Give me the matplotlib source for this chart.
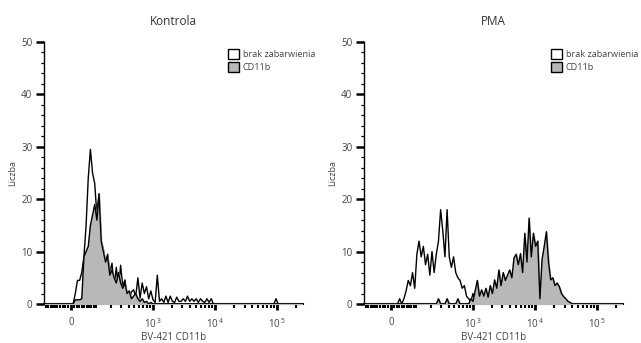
import numpy as np
import matplotlib
matplotlib.use("Agg")
import matplotlib.pyplot as plt
from matplotlib.patches import Patch

plt.rcParams["font.family"] = ["Open Sans", "DejaVu Sans"]

# teksty
panel_titles = ["Kontrola", "PMA"]
legend_labels = ["brak zabarwienia", "CD11b"]
x_label = "BV-421 CD11b"
y_label = "Liczba"
x_tick_values = [0, 1e3, 1e4, 1e5]
x_tick_labels = ["0", r"$\mathregular{10^{\,3}}$", r"$\mathregular{10^{\,4}}$", r"$\mathregular{10^{\,5}}$"]
y_tick_values = [0, 10, 20, 30, 40, 50]

# liczebnosci w 120 kanalach (skala biexp, od lewej do prawej)
kontrola_brak = [
    0, 0, 0, 0, 0, 0, 0, 0, 0, 0,
    0, 0, 0, 0, 2, 4.5, 4.5, 6, 9, 15,
    24, 29.5, 25, 23, 17, 21, 12, 10.5, 8, 9.5,
    6, 7.8, 3.3, 7, 2.7, 7.4, 3.3, 4.6, 1.7, 1,
    2.3, 2.7, 1.5, 5, 1.1, 4, 2, 3.3, 1, 2.5,
    0.8, 0.3, 5.5, 0.5, 1, 0.3, 1.5, 0.3, 1.5, 0.5,
    0.3, 1.3, 0.5, 0.5, 1, 0.5, 1.5, 0.5, 1, 0.5,
    1, 0.3, 1, 0.5, 0.3, 1, 0.3, 1, 0, 0,
    0, 0, 0, 0, 0, 0, 0, 0, 0, 0,
    0, 0, 0, 0, 0, 0, 0, 0, 0, 0,
    0, 0, 0, 0, 0, 0, 0, 1, 0, 0,
    0, 0, 0, 0, 0, 0, 0, 0, 0, 0,
]
kontrola_cd11b = [
    0, 0, 0, 0, 0, 0, 0, 0, 0, 0,
    0, 0, 0, 0, 0.8, 0.8, 0.8, 1, 9, 10,
    11, 15, 17, 19, 16, 21, 12, 10, 8, 9,
    5.5, 6.5, 5, 4, 6, 4, 3, 4, 2, 2.5,
    1, 1.5, 2, 1, 0.5, 1, 0.3, 0.5, 0, 0.3,
    0, 0, 0, 0, 0, 0, 0, 0, 0, 0,
    0, 0, 0, 0, 0, 0, 0, 0, 0, 0,
    0, 0, 0, 0, 0, 0, 0, 0, 0, 0,
    0, 0, 0, 0, 0, 0, 0, 0, 0, 0,
    0, 0, 0, 0, 0, 0, 0, 0, 0, 0,
    0, 0, 0, 0, 0, 0, 0, 0, 0, 0,
    0, 0, 0, 0, 0, 0, 0, 0, 0, 0,
]
pma_brak = [
    0, 0, 0, 0, 0, 0, 0, 0, 0, 0,
    0, 0, 0, 0, 0, 0, 1, 0, 1, 2.5,
    4.5, 3.5, 6, 3, 9.5, 12, 9, 11, 7.5, 9.5,
    5.5, 10, 6, 9.5, 12, 18, 14, 9, 18, 9,
    7, 9, 6, 5, 4.5, 3, 3.5, 1.5, 1, 0.5,
    2, 0.3, 1, 0, 0, 0, 0, 0, 0, 0,
    0, 0, 0, 0, 0, 0, 0, 0, 0, 0,
    0, 0, 0, 0, 0, 0, 0, 0, 0, 0,
    0, 0, 0, 0, 0, 0, 0, 0, 0, 0,
    0, 0, 0, 0, 0, 0, 0, 0, 0, 0,
    0, 0, 0, 0, 0, 0, 0, 0, 0, 0,
    0, 0, 0, 0, 0, 0, 0, 0, 0, 0,
]
pma_cd11b = [
    0, 0, 0, 0, 0, 0, 0, 0, 0, 0,
    0, 0, 0, 0, 0, 0, 0, 0, 0, 0,
    0, 0, 0, 0, 0, 0, 0, 0, 0, 0,
    0, 0, 0, 0, 1, 0, 0, 0, 1, 0,
    0, 0, 0, 1, 0, 0, 0, 0, 0, 1,
    0.5, 2.5, 4.5, 1.5, 2.7, 1.5, 3, 1.3, 3.5, 2,
    4.6, 3, 6.5, 3.5, 6, 4.5, 5.5, 6.5, 5, 8.8,
    9.5, 7.5, 9.6, 6, 13.5, 8, 16.4, 9, 13.5, 11,
    12, 1, 8.5, 11, 13.8, 8, 4.6, 5, 3.5, 4,
    3.3, 2, 1.4, 1, 0.5, 0.3, 0, 0, 0, 0,
    0, 0, 0, 0, 0, 0, 0, 0, 0, 0,
    0, 0, 0, 0, 0, 0, 0, 0, 0, 0,
]

panels = [(kontrola_brak, kontrola_cd11b), (pma_brak, pma_cd11b)]

# os X w skali asinh (jak biexp w FlowJo)
LIN_W = 96
X_MAX = 262144
t_edges = np.linspace(-1.0, np.arcsinh(X_MAX / LIN_W), len(kontrola_brak) + 1)
x_centers = LIN_W * np.sinh((t_edges[:-1] + t_edges[1:]) / 2)
x_min = LIN_W * np.sinh(-1.0)

minor_x = ([-m * 10 for m in range(10, 0, -1)] + [m * 10 for m in range(1, 10)]
           + [m * 100 for m in range(1, 10)] + [m * 1000 for m in range(2, 10)]
           + [m * 10000 for m in range(2, 10)] + [200000])

GRAY = "#b8b8b8"
TXT = "#444444"

fig = plt.figure(figsize=(6.41, 3.43), dpi=100)
axes_lefts = [44 / 641, 364 / 641]

for k, (brak, cd11b) in enumerate(panels):
    ax = fig.add_axes([axes_lefts[k], 1 - 304 / 343, 259 / 641, 262 / 343])
    ax.set_xscale("asinh", linear_width=LIN_W)

    ax.fill_between(x_centers, brak, color="white", zorder=2)
    ax.plot(x_centers, brak, color="black", lw=1.0, zorder=2.5)
    ax.fill_between(x_centers, cd11b, color=GRAY, zorder=3)
    ax.plot(x_centers, cd11b, color="black", lw=1.0, zorder=3.5)

    ax.set_xlim(x_min, X_MAX)
    ax.set_ylim(0, 50)

    ax.set_xticks(x_tick_values, x_tick_labels)
    ax.set_xticks(minor_x, minor=True)
    ax.set_yticks(y_tick_values)
    ax.set_yticks(np.arange(0, 51, 2), minor=True)

    ax.tick_params(axis="y", which="major", length=5.8, width=1.8, pad=2.5,
                   labelsize=7, labelcolor=TXT)
    ax.tick_params(axis="y", which="minor", length=2.5, width=0.9)
    ax.tick_params(axis="x", which="major", length=4.2, width=2.0, pad=5,
                   labelsize=7, labelcolor=TXT)
    ax.tick_params(axis="x", which="minor", length=3.2, width=1.5)

    for s in ["top", "right"]:
        ax.spines[s].set_visible(False)
    ax.spines["left"].set_linewidth(1.0)
    ax.spines["bottom"].set_linewidth(1.5)
    ax.set_facecolor("white")

    ax.set_title(panel_titles[k], fontsize=8.5, color="#333333", pad=12)
    ax.set_xlabel(x_label, fontsize=7, color=TXT, labelpad=1)
    ax.set_ylabel(y_label, fontsize=6.5, color=TXT, labelpad=3)

    handles = [Patch(facecolor="white", edgecolor="black", lw=1.0),
               Patch(facecolor=GRAY, edgecolor="black", lw=1.0)]
    ax.legend(handles, legend_labels, loc="upper left",
              bbox_to_anchor=(0.71 if k == 0 else 0.722, 0.975),
              frameon=False, fontsize=6.6, handlelength=1.2, handleheight=1.4,
              handletextpad=0.4, borderpad=0, borderaxespad=0, labelspacing=0.3,
              labelcolor=TXT)

fig.savefig("out.png", dpi=100)
